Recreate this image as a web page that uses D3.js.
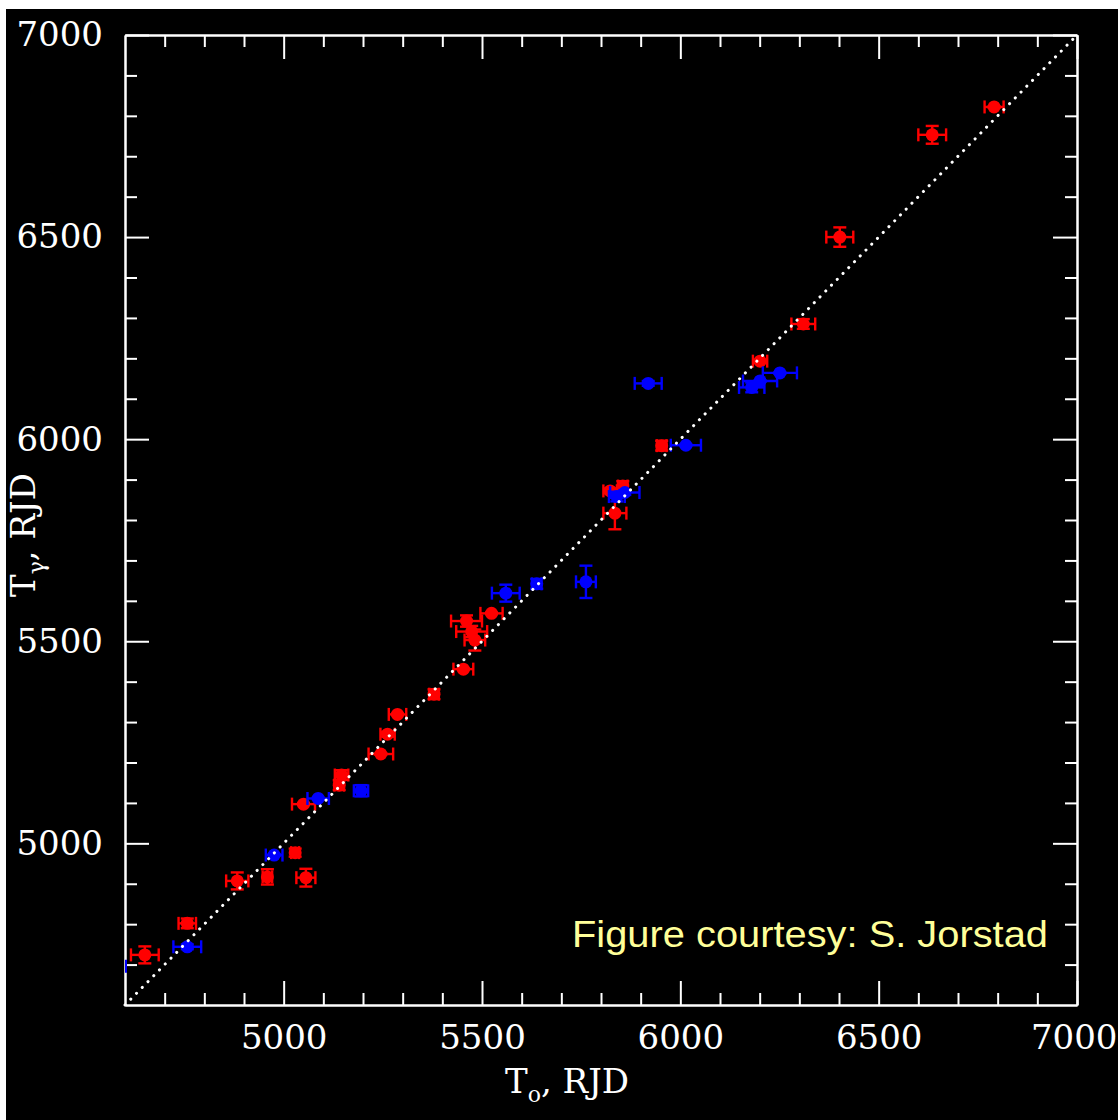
<!DOCTYPE html>
<html>
<head>
<meta charset="utf-8">
<script src="https://cdn.jsdelivr.net/npm/d3@7"></script>
<style>
  html, body { margin: 0; padding: 0; background: #ffffff; }
  svg { display: block; }
</style>
</head>
<body>
<script>
// Optical (T_o) vs gamma-ray (T_gamma) event epochs, RJD
const redX    = [4650, 4757, 4883, 4959, 5029, 5056, 5050, 5140, 5146, 5245, 5262, 5287, 5379, 5453, 5482, 5474, 5461, 5524, 5823, 5855, 5835, 5953, 6201, 6310, 6402, 6635, 6791];
const redY    = [4724, 4802, 4907, 4917, 4977, 4915, 5097, 5144, 5169, 5221, 5270, 5319, 5369, 5431, 5503, 5524, 5550, 5569, 5872, 5884, 5817, 5984, 6193, 6285, 6500, 6753, 6822];
const redXErr = [35, 22, 28, 12, 10, 24, 29, 12, 17, 31, 18, 22, 12, 25, 26, 39, 39, 28, 17, 12, 29, 12, 18, 30, 34, 35, 24];
const redYErr = [21, 12, 21, 19, 10, 22, 2, 12, 12, 2, 6, 2, 12, 2, 26, 14, 14, 2, 6, 12, 40, 12, 2, 12, 24, 22, 2];

const blueX    = [4560, 4757, 4976, 5087, 5195, 5560, 5638, 5762, 5840, 5860, 5919, 6014, 6180, 6201, 6251];
const blueY    = [4696, 4744, 4971, 5111, 5130, 5619, 5642, 5647, 5858, 5868, 6138, 5985, 6128, 6144, 6164];
const blueXErr = [42, 35, 21, 27, 18, 35, 12, 25, 20, 37, 34, 38, 32, 43, 43];
const blueYErr = [12, 6, 2, 2, 14, 21, 12, 40, 12, 6, 6, 2, 12, 2, 2];

const axisDomain = [4600, 7000];
const majorTicks = [5000, 5500, 6000, 6500, 7000];
const minorTicks = d3.range(4700, 7000, 100).filter(v => v % 500 !== 0);

const W = 1118, H = 1120;
const plotL = 125, plotR = 1077, plotT = 35, plotB = 1005;

const svg = d3.select("body").append("svg")
  .attr("width", W).attr("height", H);

// black canvas with thin white margin at top/left
svg.append("rect").attr("x", 6).attr("y", 9)
  .attr("width", W - 6).attr("height", H - 9).attr("fill", "#000");

const x = d3.scaleLinear().domain(axisDomain).range([plotL, plotR]);
const y = d3.scaleLinear().domain(axisDomain).range([plotB, plotT]);

svg.append("defs").append("clipPath").attr("id", "plotClip")
  .append("rect").attr("x", plotL).attr("y", plotT)
  .attr("width", plotR - plotL + 2).attr("height", plotB - plotT);

const fontSerif = "'DejaVu Serif', 'Liberation Serif', serif";

function styleAxis(g, showLabels) {
  g.select(".domain").attr("stroke", "#fff").attr("stroke-width", 2);
  g.selectAll(".tick line").attr("stroke", "#fff").attr("stroke-width", 2);
  g.selectAll(".tick text")
    .attr("fill", "#fff")
    .style("font-family", fontSerif)
    .style("font-size", "34px")
    .style("display", showLabels ? null : "none");
}

// bottom
const gB = svg.append("g").attr("transform", `translate(0,${plotB})`);
gB.append("g").call(d3.axisBottom(x).tickValues(minorTicks).tickSize(-12).tickSizeOuter(0).tickFormat(""))
  .call(g => styleAxis(g, false));
gB.append("g").call(d3.axisBottom(x).tickValues(majorTicks).tickSize(-24).tickSizeOuter(0).tickPadding(20).tickFormat(d3.format("d")))
  .call(g => styleAxis(g, true))
  .call(g => g.selectAll(".tick text")
    .filter(d => d === axisDomain[1])
    .attr("text-anchor", "end").attr("x", W - 1 - plotR));

// top
const gT = svg.append("g").attr("transform", `translate(0,${plotT})`);
gT.append("g").call(d3.axisTop(x).tickValues(minorTicks).tickSize(-12).tickSizeOuter(0).tickFormat(""))
  .call(g => styleAxis(g, false));
gT.append("g").call(d3.axisTop(x).tickValues(majorTicks).tickSize(-24).tickSizeOuter(0).tickFormat(""))
  .call(g => styleAxis(g, false));

// left
const gL = svg.append("g").attr("transform", `translate(${plotL},0)`);
gL.append("g").call(d3.axisLeft(y).tickValues(minorTicks).tickSize(-12).tickSizeOuter(0).tickFormat(""))
  .call(g => styleAxis(g, false));
gL.append("g").call(d3.axisLeft(y).tickValues(majorTicks).tickSize(-24).tickSizeOuter(0).tickPadding(22).tickFormat(d3.format("d")))
  .call(g => styleAxis(g, true));

// right
const gR = svg.append("g").attr("transform", `translate(${plotR},0)`);
gR.append("g").call(d3.axisRight(y).tickValues(minorTicks).tickSize(-12).tickSizeOuter(0).tickFormat(""))
  .call(g => styleAxis(g, false));
gR.append("g").call(d3.axisRight(y).tickValues(majorTicks).tickSize(-24).tickSizeOuter(0).tickFormat(""))
  .call(g => styleAxis(g, false));

// error-bar markers
const capHalf = 6.5, dotR = 6.5, barW = 2.4;
function drawSeries(xs, ys, xe, ye, color) {
  const data = xs.map((v, i) => ({ x: v, y: ys[i], xe: xe[i], ye: ye[i] }));
  const g = svg.append("g").attr("clip-path", "url(#plotClip)")
    .attr("stroke", color).attr("stroke-width", barW).attr("fill", color);
  const pts = g.selectAll("g.pt").data(data).join("g").attr("class", "pt");
  pts.append("line")
    .attr("x1", d => x(d.x - d.xe)).attr("x2", d => x(d.x + d.xe))
    .attr("y1", d => y(d.y)).attr("y2", d => y(d.y));
  pts.append("line")
    .attr("x1", d => x(d.x)).attr("x2", d => x(d.x))
    .attr("y1", d => y(d.y - d.ye)).attr("y2", d => y(d.y + d.ye));
  [-1, 1].forEach(s => {
    pts.append("line")
      .attr("x1", d => x(d.x + s * d.xe)).attr("x2", d => x(d.x + s * d.xe))
      .attr("y1", d => y(d.y) - capHalf).attr("y2", d => y(d.y) + capHalf);
    pts.append("line")
      .attr("x1", d => x(d.x) - capHalf).attr("x2", d => x(d.x) + capHalf)
      .attr("y1", d => y(d.y + s * d.ye)).attr("y2", d => y(d.y + s * d.ye));
  });
  pts.append("circle")
    .attr("cx", d => x(d.x)).attr("cy", d => y(d.y)).attr("r", dotR)
    .attr("stroke", "none");
}

drawSeries(redX, redY, redXErr, redYErr, "#ff0000");
drawSeries(blueX, blueY, blueXErr, blueYErr, "#0000ff");

// one-to-one line
svg.append("line")
  .attr("x1", x(axisDomain[0])).attr("y1", y(axisDomain[0]))
  .attr("x2", x(axisDomain[1])).attr("y2", y(axisDomain[1]))
  .attr("stroke", "#fff").attr("stroke-width", 3)
  .attr("stroke-linecap", "round").attr("stroke-dasharray", "0.1 8.1");

// axis titles
const xt = svg.append("text")
  .attr("x", 505).attr("y", 1093)
  .attr("fill", "#fff").style("font-family", fontSerif).style("font-size", "34px");
xt.append("tspan").text("T");
xt.append("tspan").attr("dy", 9).style("font-size", "22px").text("o");
xt.append("tspan").attr("dy", -9).text(", RJD");

const yt = svg.append("text")
  .attr("transform", "translate(35,597) rotate(-90)")
  .attr("fill", "#fff").style("font-family", fontSerif).style("font-size", "34px");
yt.append("tspan").text("T");
yt.append("tspan").attr("dy", 9).style("font-size", "22px").text("γ");
yt.append("tspan").attr("dy", -9).text(", RJD");

// credit
svg.append("text")
  .attr("x", 572).attr("y", 947)
  .attr("textLength", 476).attr("lengthAdjust", "spacingAndGlyphs")
  .attr("fill", "#ffff99")
  .style("font-family", "'Liberation Sans', Arial, sans-serif")
  .style("font-size", "37px")
  .text("Figure courtesy: S. Jorstad");
</script>
</body>
</html>
